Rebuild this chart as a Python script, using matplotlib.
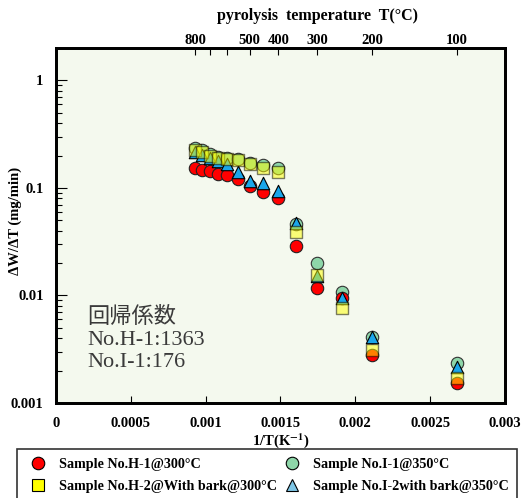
import matplotlib.pyplot as plt
from matplotlib.lines import Line2D
import numpy as np

plt.rcParams['font.family'] = ['Liberation Serif', 'Noto Sans CJK JP', 'DejaVu Sans']
plt.rcParams['mathtext.fontset'] = 'stix'

# 1/T (K^-1) for each pyrolysis step
inv_T = [0.000932, 0.000978, 0.001028, 0.001083, 0.001145, 0.001215, 0.001294,
         0.001383, 0.001486, 0.001605, 0.001745, 0.001912, 0.002114, 0.002681]

# dW/dT (mg/min)
h1 = [0.152, 0.146, 0.143, 0.136, 0.131, 0.122, 0.103, 0.0925, 0.081,
      0.0287, 0.0116, 0.0094, 0.00277, 0.00154]
h2 = [0.224, 0.215, 0.197, 0.189, 0.186, 0.181, 0.166, 0.152, 0.139,
      0.039, 0.0156, 0.0077, 0.0031, 0.00172]
i1 = [0.235, 0.226, 0.205, 0.195, 0.19, 0.184, 0.172, 0.163, 0.153,
      0.046, 0.0199, 0.0108, 0.0041, 0.00233]
i2 = [0.215, 0.201, 0.189, 0.177, 0.166, 0.142, 0.117, 0.112, 0.094,
      0.047, 0.0152, 0.0095, 0.0041, 0.00214]

top_temps = [800, 700, 600, 500, 400, 300, 200, 100]
top_labels = ['800', '', '', '500', '400', '300', '200', '100']

labels = ['Sample No.H-1@300\u00b0C', 'Sample No.H-2@With bark@300\u00b0C',
          'Sample No.I-1@350\u00b0C', 'Sample No.I-2with bark@350\u00b0C']

red = '#FF0000'
yellow = '#FFFF00'
green = '#8ED6A9'
blue = '#1AA6EA'

fig = plt.figure(figsize=(5.25, 4.98), dpi=100)
ax = fig.add_axes([0.1067, 0.191, 0.855, 0.7126])
ax.set_facecolor('#F4F9EE')

ms = 80
ax.scatter(inv_T, i1, s=ms, marker='o', color=green, edgecolor='#333333', lw=0.8, zorder=3)
ax.scatter(inv_T, h1, s=ms, marker='o', color=red, edgecolor='#222222', lw=0.8, zorder=4)
ax.scatter(inv_T, i2, s=ms, marker='^', color=blue, edgecolor='black', lw=0.8, zorder=5)
ax.scatter(inv_T, h2, s=ms * 0.95, marker='s', color=yellow, edgecolor='black', lw=1.0,
           alpha=0.5, zorder=6)

ax.set_yscale('log')
ax.set_ylim(0.001, 2.0)
ax.set_xlim(0, 0.003)
ax.set_xticks([0, 0.0005, 0.001, 0.0015, 0.002, 0.0025, 0.003])
ax.set_xticklabels(['0', '0.0005', '0.001', '0.0015', '0.002', '0.0025', '0.003'])
ax.set_yticks([0.001, 0.01, 0.1, 1])
ax.set_yticklabels(['0.001', '0.01', '0.1', '1'])

for s in ax.spines.values():
    s.set_linewidth(2)

ax.tick_params(axis='x', which='major', direction='in', length=5, width=0.8,
               labelsize=10.5, pad=10, top=False)
ax.tick_params(axis='y', which='major', direction='in', length=8, width=0.8,
               labelsize=10.5, pad=9, right=False)
ax.tick_params(axis='y', which='minor', direction='in', length=4, width=0.8, right=False)
for t in ax.get_xticklabels() + ax.get_yticklabels():
    t.set_fontweight('bold')

ax.set_xlabel('1/T(K$^{\\mathbf{-1}}$)', fontsize=10.5, fontweight='bold', labelpad=1)
ax.set_ylabel('\u0394W/\u0394T (mg/min)', fontsize=10.5, fontweight='bold')
ax.yaxis.set_label_coords(-0.076, 0.513)

# temperature scale on top
top = ax.twiny()
top.set_xlim(ax.get_xlim())
top.set_xticks([1.0 / (t + 273.15) for t in top_temps])
top.set_xticklabels(top_labels)
top.tick_params(axis='x', direction='in', length=5, width=0.8, labelsize=10.5, pad=1)
for t in top.get_xticklabels():
    t.set_fontweight('bold')
top.set_xlabel('pyrolysis  temperature  T(\u00b0C)', fontsize=11.5, fontweight='bold')
top.xaxis.set_label_coords(0.583, 1.08)
for s in top.spines.values():
    s.set_linewidth(2)

ax.text(0.069, 0.179, '回帰係数\nNo.H-1:1363\nNo.I-1:176', transform=ax.transAxes,
        fontsize=16, color='#3a3a3a', linespacing=1.22, va='center', ha='left')

handles = [
    Line2D([], [], ls='none', marker='o', ms=9, mfc=red, mec='black', mew=0.8),
    Line2D([], [], ls='none', marker='s', ms=9, mfc=yellow, mec='black', mew=0.8),
    Line2D([], [], ls='none', marker='o', ms=9, mfc=green, mec='black', mew=0.8),
    Line2D([], [], ls='none', marker='^', ms=9, mfc='#7EC6E6', mec='black', mew=0.8),
]
leg = fig.legend(handles, labels, loc='upper left', bbox_to_anchor=(17 / 525, 1 - 449 / 498),
                 ncol=2, fancybox=False, frameon=True, edgecolor='black',
                 prop={'family': 'Liberation Serif', 'weight': 'bold', 'size': 10.2},
                 handletextpad=0.55, columnspacing=0.2, borderpad=0.6, labelspacing=0.65,
                 handlelength=1.8, borderaxespad=0)
leg.get_frame().set_linewidth(1.2)

fig.savefig('out.png', dpi=100)
